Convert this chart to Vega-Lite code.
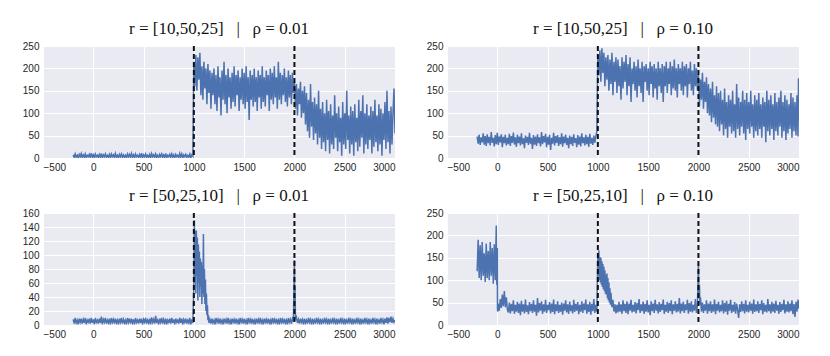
{
"$schema": "https://vega.github.io/schema/vega-lite/v6.json",
"background": "white",
"padding": {"left": 22, "top": 20, "right": 5, "bottom": 5},
"columns": 2,
"bounds": "flush",
"spacing": {"row": 55, "column": 52},
"datasets": {
"v": [{"v": 1000}, {"v": 2000}],
"a": [
{"x":-200,"y":7},{"x":-190,"y":1},{"x":-180,"y":9},{"x":-170,"y":2},{"x":-160,"y":6},{"x":-150,"y":0},{"x":-140,"y":8},{"x":-130,"y":3},{"x":-120,"y":10},{"x":-110,"y":1},
{"x":-100,"y":7},{"x":-90,"y":2},{"x":-80,"y":9},{"x":-70,"y":0},{"x":-60,"y":6},{"x":-50,"y":3},{"x":-40,"y":8},{"x":-30,"y":1},{"x":-20,"y":11},{"x":-10,"y":2},
{"x":0,"y":7},{"x":10,"y":0},{"x":20,"y":9},{"x":30,"y":3},{"x":40,"y":6},{"x":50,"y":1},{"x":60,"y":8},{"x":70,"y":2},{"x":80,"y":10},{"x":90,"y":0},
{"x":100,"y":7},{"x":110,"y":3},{"x":120,"y":9},{"x":130,"y":1},{"x":140,"y":6},{"x":150,"y":2},{"x":160,"y":8},{"x":170,"y":0},{"x":180,"y":9},{"x":190,"y":3},
{"x":200,"y":7},{"x":210,"y":1},{"x":220,"y":10},{"x":230,"y":2},{"x":240,"y":6},{"x":250,"y":0},{"x":260,"y":8},{"x":270,"y":3},{"x":280,"y":9},{"x":290,"y":1},
{"x":300,"y":7},{"x":310,"y":2},{"x":320,"y":6},{"x":330,"y":0},{"x":340,"y":9},{"x":350,"y":3},{"x":360,"y":8},{"x":370,"y":1},{"x":380,"y":10},{"x":390,"y":2},
{"x":400,"y":7},{"x":410,"y":0},{"x":420,"y":9},{"x":430,"y":3},{"x":440,"y":6},{"x":450,"y":1},{"x":460,"y":8},{"x":470,"y":2},{"x":480,"y":11},{"x":490,"y":0},
{"x":500,"y":7},{"x":510,"y":3},{"x":520,"y":9},{"x":530,"y":1},{"x":540,"y":6},{"x":550,"y":2},{"x":560,"y":8},{"x":570,"y":0},{"x":580,"y":10},{"x":590,"y":3},
{"x":600,"y":7},{"x":610,"y":1},{"x":620,"y":9},{"x":630,"y":2},{"x":640,"y":6},{"x":650,"y":0},{"x":660,"y":8},{"x":670,"y":3},{"x":680,"y":9},{"x":690,"y":1},
{"x":700,"y":7},{"x":710,"y":2},{"x":720,"y":10},{"x":730,"y":0},{"x":740,"y":6},{"x":750,"y":3},{"x":760,"y":8},{"x":770,"y":1},{"x":780,"y":9},{"x":790,"y":2},
{"x":800,"y":7},{"x":810,"y":0},{"x":820,"y":8},{"x":830,"y":3},{"x":840,"y":6},{"x":850,"y":1},{"x":860,"y":10},{"x":870,"y":2},{"x":880,"y":9},{"x":890,"y":0},
{"x":900,"y":7},{"x":910,"y":3},{"x":920,"y":8},{"x":930,"y":1},{"x":940,"y":6},{"x":950,"y":2},{"x":960,"y":9},{"x":970,"y":0},{"x":980,"y":7},{"x":990,"y":4},
{"x":1000,"y":215},{"x":1010,"y":160},{"x":1020,"y":230},{"x":1030,"y":150},{"x":1040,"y":225},{"x":1050,"y":175},{"x":1060,"y":235},{"x":1070,"y":140},{"x":1080,"y":205},{"x":1090,"y":130},
{"x":1100,"y":215},{"x":1110,"y":155},{"x":1120,"y":200},{"x":1130,"y":120},{"x":1140,"y":210},{"x":1150,"y":145},{"x":1160,"y":195},{"x":1170,"y":110},{"x":1180,"y":190},{"x":1190,"y":140},
{"x":1200,"y":200},{"x":1210,"y":120},{"x":1220,"y":185},{"x":1230,"y":105},{"x":1240,"y":205},{"x":1250,"y":135},{"x":1260,"y":180},{"x":1270,"y":95},{"x":1280,"y":195},{"x":1290,"y":130},
{"x":1300,"y":215},{"x":1310,"y":120},{"x":1320,"y":185},{"x":1330,"y":100},{"x":1340,"y":200},{"x":1350,"y":135},{"x":1360,"y":180},{"x":1370,"y":110},{"x":1380,"y":190},{"x":1390,"y":125},
{"x":1400,"y":205},{"x":1410,"y":115},{"x":1420,"y":185},{"x":1430,"y":140},{"x":1440,"y":195},{"x":1450,"y":105},{"x":1460,"y":180},{"x":1470,"y":130},{"x":1480,"y":200},{"x":1490,"y":120},
{"x":1500,"y":190},{"x":1510,"y":110},{"x":1520,"y":205},{"x":1530,"y":125},{"x":1540,"y":180},{"x":1550,"y":85},{"x":1560,"y":195},{"x":1570,"y":130},{"x":1580,"y":185},{"x":1590,"y":115},
{"x":1600,"y":200},{"x":1610,"y":125},{"x":1620,"y":180},{"x":1630,"y":105},{"x":1640,"y":195},{"x":1650,"y":135},{"x":1660,"y":185},{"x":1670,"y":110},{"x":1680,"y":205},{"x":1690,"y":125},
{"x":1700,"y":180},{"x":1710,"y":115},{"x":1720,"y":195},{"x":1730,"y":140},{"x":1740,"y":185},{"x":1750,"y":105},{"x":1760,"y":200},{"x":1770,"y":130},{"x":1780,"y":190},{"x":1790,"y":120},
{"x":1800,"y":205},{"x":1810,"y":135},{"x":1820,"y":180},{"x":1830,"y":110},{"x":1840,"y":215},{"x":1850,"y":130},{"x":1860,"y":190},{"x":1870,"y":120},{"x":1880,"y":185},{"x":1890,"y":140},
{"x":1900,"y":200},{"x":1910,"y":125},{"x":1920,"y":180},{"x":1930,"y":115},{"x":1940,"y":195},{"x":1950,"y":135},{"x":1960,"y":185},{"x":1970,"y":120},{"x":1980,"y":190},{"x":1990,"y":145},
{"x":2000,"y":170},{"x":2010,"y":110},{"x":2020,"y":165},{"x":2030,"y":95},{"x":2040,"y":155},{"x":2050,"y":120},{"x":2060,"y":170},{"x":2070,"y":90},{"x":2080,"y":150},{"x":2090,"y":100},
{"x":2100,"y":160},{"x":2110,"y":75},{"x":2120,"y":145},{"x":2130,"y":60},{"x":2140,"y":130},{"x":2150,"y":45},{"x":2160,"y":165},{"x":2170,"y":70},{"x":2180,"y":125},{"x":2190,"y":40},
{"x":2200,"y":135},{"x":2210,"y":55},{"x":2220,"y":120},{"x":2230,"y":30},{"x":2240,"y":150},{"x":2250,"y":45},{"x":2260,"y":110},{"x":2270,"y":20},{"x":2280,"y":125},{"x":2290,"y":35},
{"x":2300,"y":100},{"x":2310,"y":15},{"x":2320,"y":130},{"x":2330,"y":40},{"x":2340,"y":105},{"x":2350,"y":10},{"x":2360,"y":120},{"x":2370,"y":30},{"x":2380,"y":95},{"x":2390,"y":20},
{"x":2400,"y":140},{"x":2410,"y":45},{"x":2420,"y":100},{"x":2430,"y":15},{"x":2440,"y":115},{"x":2450,"y":35},{"x":2460,"y":90},{"x":2470,"y":5},{"x":2480,"y":125},{"x":2490,"y":30},
{"x":2500,"y":100},{"x":2510,"y":20},{"x":2520,"y":150},{"x":2530,"y":40},{"x":2540,"y":95},{"x":2550,"y":10},{"x":2560,"y":115},{"x":2570,"y":30},{"x":2580,"y":105},{"x":2590,"y":5},
{"x":2600,"y":120},{"x":2610,"y":35},{"x":2620,"y":90},{"x":2630,"y":15},{"x":2640,"y":130},{"x":2650,"y":25},{"x":2660,"y":105},{"x":2670,"y":45},{"x":2680,"y":140},{"x":2690,"y":10},
{"x":2700,"y":100},{"x":2710,"y":30},{"x":2720,"y":120},{"x":2730,"y":20},{"x":2740,"y":95},{"x":2750,"y":40},{"x":2760,"y":115},{"x":2770,"y":10},{"x":2780,"y":105},{"x":2790,"y":25},
{"x":2800,"y":130},{"x":2810,"y":35},{"x":2820,"y":95},{"x":2830,"y":15},{"x":2840,"y":120},{"x":2850,"y":30},{"x":2860,"y":110},{"x":2870,"y":5},{"x":2880,"y":100},{"x":2890,"y":40},
{"x":2900,"y":125},{"x":2910,"y":20},{"x":2920,"y":150},{"x":2930,"y":35},{"x":2940,"y":105},{"x":2950,"y":10},{"x":2960,"y":115},{"x":2970,"y":30},{"x":2980,"y":100},{"x":2990,"y":155},{"x":3000,"y":55}
],
"b": [
{"x":-200,"y":48},{"x":-190,"y":32},{"x":-180,"y":52},{"x":-170,"y":29},{"x":-160,"y":46},{"x":-150,"y":35},{"x":-140,"y":55},{"x":-130,"y":30},{"x":-120,"y":49},{"x":-110,"y":27},
{"x":-100,"y":53},{"x":-90,"y":33},{"x":-80,"y":47},{"x":-70,"y":28},{"x":-60,"y":58},{"x":-50,"y":34},{"x":-40,"y":45},{"x":-30,"y":26},{"x":-20,"y":51},{"x":-10,"y":31},
{"x":0,"y":56},{"x":10,"y":29},{"x":20,"y":48},{"x":30,"y":35},{"x":40,"y":53},{"x":50,"y":24},{"x":60,"y":47},{"x":70,"y":33},{"x":80,"y":52},{"x":90,"y":28},
{"x":100,"y":45},{"x":110,"y":31},{"x":120,"y":54},{"x":130,"y":27},{"x":140,"y":49},{"x":150,"y":34},{"x":160,"y":57},{"x":170,"y":30},{"x":180,"y":46},{"x":190,"y":25},
{"x":200,"y":52},{"x":210,"y":33},{"x":220,"y":48},{"x":230,"y":28},{"x":240,"y":55},{"x":250,"y":31},{"x":260,"y":44},{"x":270,"y":22},{"x":280,"y":50},{"x":290,"y":34},
{"x":300,"y":47},{"x":310,"y":29},{"x":320,"y":56},{"x":330,"y":32},{"x":340,"y":45},{"x":350,"y":20},{"x":360,"y":51},{"x":370,"y":30},{"x":380,"y":48},{"x":390,"y":27},
{"x":400,"y":53},{"x":410,"y":33},{"x":420,"y":46},{"x":430,"y":26},{"x":440,"y":58},{"x":450,"y":31},{"x":460,"y":49},{"x":470,"y":35},{"x":480,"y":54},{"x":490,"y":24},
{"x":500,"y":47},{"x":510,"y":30},{"x":520,"y":52},{"x":530,"y":18},{"x":540,"y":45},{"x":550,"y":32},{"x":560,"y":56},{"x":570,"y":28},{"x":580,"y":49},{"x":590,"y":34},
{"x":600,"y":51},{"x":610,"y":27},{"x":620,"y":46},{"x":630,"y":31},{"x":640,"y":55},{"x":650,"y":25},{"x":660,"y":48},{"x":670,"y":33},{"x":680,"y":52},{"x":690,"y":29},
{"x":700,"y":45},{"x":710,"y":22},{"x":720,"y":50},{"x":730,"y":31},{"x":740,"y":47},{"x":750,"y":27},{"x":760,"y":53},{"x":770,"y":34},{"x":780,"y":44},{"x":790,"y":24},
{"x":800,"y":51},{"x":810,"y":30},{"x":820,"y":48},{"x":830,"y":26},{"x":840,"y":55},{"x":850,"y":33},{"x":860,"y":46},{"x":870,"y":28},{"x":880,"y":52},{"x":890,"y":31},
{"x":900,"y":47},{"x":910,"y":25},{"x":920,"y":54},{"x":930,"y":32},{"x":940,"y":45},{"x":950,"y":29},{"x":960,"y":50},{"x":970,"y":34},{"x":980,"y":48},{"x":990,"y":60},
{"x":1000,"y":230},{"x":1010,"y":185},{"x":1020,"y":240},{"x":1030,"y":170},{"x":1040,"y":245},{"x":1050,"y":190},{"x":1060,"y":235},{"x":1070,"y":160},{"x":1080,"y":225},{"x":1090,"y":175},
{"x":1100,"y":230},{"x":1110,"y":150},{"x":1120,"y":220},{"x":1130,"y":165},{"x":1140,"y":235},{"x":1150,"y":140},{"x":1160,"y":215},{"x":1170,"y":170},{"x":1180,"y":225},{"x":1190,"y":145},
{"x":1200,"y":220},{"x":1210,"y":160},{"x":1220,"y":205},{"x":1230,"y":130},{"x":1240,"y":225},{"x":1250,"y":155},{"x":1260,"y":215},{"x":1270,"y":170},{"x":1280,"y":230},{"x":1290,"y":140},
{"x":1300,"y":210},{"x":1310,"y":160},{"x":1320,"y":225},{"x":1330,"y":125},{"x":1340,"y":200},{"x":1350,"y":165},{"x":1360,"y":215},{"x":1370,"y":150},{"x":1380,"y":205},{"x":1390,"y":135},
{"x":1400,"y":220},{"x":1410,"y":160},{"x":1420,"y":200},{"x":1430,"y":145},{"x":1440,"y":215},{"x":1450,"y":125},{"x":1460,"y":205},{"x":1470,"y":170},{"x":1480,"y":210},{"x":1490,"y":150},
{"x":1500,"y":200},{"x":1510,"y":140},{"x":1520,"y":215},{"x":1530,"y":165},{"x":1540,"y":205},{"x":1550,"y":135},{"x":1560,"y":210},{"x":1570,"y":155},{"x":1580,"y":200},{"x":1590,"y":130},
{"x":1600,"y":215},{"x":1610,"y":160},{"x":1620,"y":200},{"x":1630,"y":145},{"x":1640,"y":210},{"x":1650,"y":125},{"x":1660,"y":205},{"x":1670,"y":160},{"x":1680,"y":215},{"x":1690,"y":145},
{"x":1700,"y":200},{"x":1710,"y":165},{"x":1720,"y":215},{"x":1730,"y":140},{"x":1740,"y":205},{"x":1750,"y":155},{"x":1760,"y":220},{"x":1770,"y":150},{"x":1780,"y":200},{"x":1790,"y":135},
{"x":1800,"y":210},{"x":1810,"y":165},{"x":1820,"y":200},{"x":1830,"y":150},{"x":1840,"y":215},{"x":1850,"y":140},{"x":1860,"y":205},{"x":1870,"y":160},{"x":1880,"y":210},{"x":1890,"y":135},
{"x":1900,"y":200},{"x":1910,"y":165},{"x":1920,"y":215},{"x":1930,"y":150},{"x":1940,"y":195},{"x":1950,"y":140},{"x":1960,"y":210},{"x":1970,"y":160},{"x":1980,"y":200},{"x":1990,"y":150},
{"x":2000,"y":185},{"x":2010,"y":115},{"x":2020,"y":175},{"x":2030,"y":130},{"x":2040,"y":190},{"x":2050,"y":110},{"x":2060,"y":170},{"x":2070,"y":125},{"x":2080,"y":180},{"x":2090,"y":100},
{"x":2100,"y":165},{"x":2110,"y":95},{"x":2120,"y":155},{"x":2130,"y":80},{"x":2140,"y":170},{"x":2150,"y":90},{"x":2160,"y":140},{"x":2170,"y":75},{"x":2180,"y":160},{"x":2190,"y":70},
{"x":2200,"y":145},{"x":2210,"y":60},{"x":2220,"y":150},{"x":2230,"y":75},{"x":2240,"y":130},{"x":2250,"y":50},{"x":2260,"y":155},{"x":2270,"y":65},{"x":2280,"y":125},{"x":2290,"y":45},
{"x":2300,"y":140},{"x":2310,"y":70},{"x":2320,"y":130},{"x":2330,"y":55},{"x":2340,"y":150},{"x":2350,"y":60},{"x":2360,"y":120},{"x":2370,"y":45},{"x":2380,"y":165},{"x":2390,"y":65},
{"x":2400,"y":135},{"x":2410,"y":50},{"x":2420,"y":125},{"x":2430,"y":70},{"x":2440,"y":150},{"x":2450,"y":55},{"x":2460,"y":130},{"x":2470,"y":40},{"x":2480,"y":145},{"x":2490,"y":65},
{"x":2500,"y":125},{"x":2510,"y":55},{"x":2520,"y":150},{"x":2530,"y":70},{"x":2540,"y":120},{"x":2550,"y":45},{"x":2560,"y":140},{"x":2570,"y":60},{"x":2580,"y":130},{"x":2590,"y":50},
{"x":2600,"y":145},{"x":2610,"y":65},{"x":2620,"y":120},{"x":2630,"y":45},{"x":2640,"y":135},{"x":2650,"y":70},{"x":2660,"y":125},{"x":2670,"y":35},{"x":2680,"y":150},{"x":2690,"y":60},
{"x":2700,"y":130},{"x":2710,"y":50},{"x":2720,"y":140},{"x":2730,"y":65},{"x":2740,"y":120},{"x":2750,"y":40},{"x":2760,"y":145},{"x":2770,"y":60},{"x":2780,"y":125},{"x":2790,"y":50},
{"x":2800,"y":135},{"x":2810,"y":70},{"x":2820,"y":150},{"x":2830,"y":45},{"x":2840,"y":125},{"x":2850,"y":60},{"x":2860,"y":140},{"x":2870,"y":40},{"x":2880,"y":130},{"x":2890,"y":55},
{"x":2900,"y":120},{"x":2910,"y":65},{"x":2920,"y":145},{"x":2930,"y":45},{"x":2940,"y":135},{"x":2950,"y":60},{"x":2960,"y":125},{"x":2970,"y":50},{"x":2980,"y":140},{"x":2990,"y":48},{"x":2995,"y":178},{"x":3000,"y":85}
],
"c": [
{"x":-200,"y":8},{"x":-190,"y":2},{"x":-180,"y":10},{"x":-170,"y":3},{"x":-160,"y":7},{"x":-150,"y":1},{"x":-140,"y":9},{"x":-130,"y":4},{"x":-120,"y":9},{"x":-110,"y":2},
{"x":-100,"y":8},{"x":-90,"y":3},{"x":-80,"y":10},{"x":-70,"y":1},{"x":-60,"y":7},{"x":-50,"y":4},{"x":-40,"y":9},{"x":-30,"y":2},{"x":-20,"y":10},{"x":-10,"y":3},
{"x":0,"y":8},{"x":10,"y":1},{"x":20,"y":10},{"x":30,"y":4},{"x":40,"y":7},{"x":50,"y":2},{"x":60,"y":9},{"x":70,"y":3},{"x":80,"y":12},{"x":90,"y":1},
{"x":100,"y":8},{"x":110,"y":4},{"x":120,"y":10},{"x":130,"y":2},{"x":140,"y":7},{"x":150,"y":3},{"x":160,"y":9},{"x":170,"y":1},{"x":180,"y":10},{"x":190,"y":4},
{"x":200,"y":8},{"x":210,"y":2},{"x":220,"y":9},{"x":230,"y":3},{"x":240,"y":7},{"x":250,"y":1},{"x":260,"y":9},{"x":270,"y":4},{"x":280,"y":10},{"x":290,"y":2},
{"x":300,"y":8},{"x":310,"y":3},{"x":320,"y":7},{"x":330,"y":1},{"x":340,"y":10},{"x":350,"y":4},{"x":360,"y":9},{"x":370,"y":2},{"x":380,"y":9},{"x":390,"y":3},
{"x":400,"y":8},{"x":410,"y":1},{"x":420,"y":10},{"x":430,"y":4},{"x":440,"y":7},{"x":450,"y":2},{"x":460,"y":9},{"x":470,"y":3},{"x":480,"y":9},{"x":490,"y":1},
{"x":500,"y":8},{"x":510,"y":4},{"x":520,"y":10},{"x":530,"y":2},{"x":540,"y":7},{"x":550,"y":3},{"x":560,"y":9},{"x":570,"y":1},{"x":580,"y":11},{"x":590,"y":4},
{"x":600,"y":8},{"x":610,"y":2},{"x":620,"y":13},{"x":630,"y":3},{"x":640,"y":7},{"x":650,"y":1},{"x":660,"y":9},{"x":670,"y":4},{"x":680,"y":10},{"x":690,"y":2},
{"x":700,"y":8},{"x":710,"y":3},{"x":720,"y":9},{"x":730,"y":1},{"x":740,"y":7},{"x":750,"y":4},{"x":760,"y":9},{"x":770,"y":2},{"x":780,"y":10},{"x":790,"y":3},
{"x":800,"y":8},{"x":810,"y":1},{"x":820,"y":9},{"x":830,"y":4},{"x":840,"y":7},{"x":850,"y":2},{"x":860,"y":10},{"x":870,"y":3},{"x":880,"y":9},{"x":890,"y":1},
{"x":900,"y":8},{"x":910,"y":4},{"x":920,"y":9},{"x":930,"y":2},{"x":940,"y":7},{"x":950,"y":3},{"x":960,"y":10},{"x":970,"y":1},{"x":980,"y":8},{"x":990,"y":3},
{"x":1000,"y":55},{"x":1005,"y":150},{"x":1010,"y":60},{"x":1015,"y":135},{"x":1020,"y":45},{"x":1025,"y":135},{"x":1030,"y":70},{"x":1035,"y":125},{"x":1040,"y":35},{"x":1045,"y":115},
{"x":1050,"y":60},{"x":1055,"y":105},{"x":1060,"y":40},{"x":1065,"y":95},{"x":1070,"y":55},{"x":1075,"y":90},{"x":1080,"y":30},{"x":1085,"y":85},{"x":1090,"y":45},{"x":1095,"y":130},
{"x":1100,"y":40},{"x":1105,"y":80},{"x":1110,"y":30},{"x":1115,"y":65},{"x":1120,"y":20},{"x":1125,"y":45},{"x":1130,"y":14},{"x":1135,"y":28},{"x":1140,"y":7},{"x":1145,"y":14},{"x":1150,"y":3},
{"x":1160,"y":8},{"x":1170,"y":2},{"x":1180,"y":9},{"x":1190,"y":3},
{"x":1200,"y":7},{"x":1210,"y":1},{"x":1220,"y":10},{"x":1230,"y":4},{"x":1240,"y":8},{"x":1250,"y":2},{"x":1260,"y":9},{"x":1270,"y":3},{"x":1280,"y":7},{"x":1290,"y":1},
{"x":1300,"y":9},{"x":1310,"y":4},{"x":1320,"y":8},{"x":1330,"y":2},{"x":1340,"y":10},{"x":1350,"y":3},{"x":1360,"y":7},{"x":1370,"y":1},{"x":1380,"y":9},{"x":1390,"y":4},
{"x":1400,"y":8},{"x":1410,"y":2},{"x":1420,"y":9},{"x":1430,"y":3},{"x":1440,"y":7},{"x":1450,"y":1},{"x":1460,"y":10},{"x":1470,"y":4},{"x":1480,"y":8},{"x":1490,"y":2},
{"x":1500,"y":9},{"x":1510,"y":3},{"x":1520,"y":7},{"x":1530,"y":1},{"x":1540,"y":10},{"x":1550,"y":4},{"x":1560,"y":8},{"x":1570,"y":2},{"x":1580,"y":9},{"x":1590,"y":3},
{"x":1600,"y":7},{"x":1610,"y":1},{"x":1620,"y":9},{"x":1630,"y":4},{"x":1640,"y":8},{"x":1650,"y":2},{"x":1660,"y":10},{"x":1670,"y":3},{"x":1680,"y":7},{"x":1690,"y":1},
{"x":1700,"y":9},{"x":1710,"y":4},{"x":1720,"y":8},{"x":1730,"y":2},{"x":1740,"y":9},{"x":1750,"y":3},{"x":1760,"y":7},{"x":1770,"y":1},{"x":1780,"y":10},{"x":1790,"y":4},
{"x":1800,"y":8},{"x":1810,"y":2},{"x":1820,"y":9},{"x":1830,"y":3},{"x":1840,"y":7},{"x":1850,"y":1},{"x":1860,"y":10},{"x":1870,"y":4},{"x":1880,"y":8},{"x":1890,"y":2},
{"x":1900,"y":9},{"x":1910,"y":3},{"x":1920,"y":7},{"x":1930,"y":1},{"x":1940,"y":10},{"x":1950,"y":4},{"x":1960,"y":8},{"x":1970,"y":2},{"x":1980,"y":9},{"x":1990,"y":5},
{"x":2000,"y":93},{"x":2003,"y":25},{"x":2006,"y":55},{"x":2010,"y":12},{"x":2015,"y":9},{"x":2020,"y":11},
{"x":2030,"y":3},{"x":2040,"y":8},{"x":2050,"y":2},{"x":2060,"y":9},{"x":2070,"y":4},{"x":2080,"y":8},{"x":2090,"y":1},
{"x":2100,"y":9},{"x":2110,"y":3},{"x":2120,"y":7},{"x":2130,"y":2},{"x":2140,"y":10},{"x":2150,"y":4},{"x":2160,"y":8},{"x":2170,"y":1},{"x":2180,"y":9},{"x":2190,"y":3},
{"x":2200,"y":7},{"x":2210,"y":2},{"x":2220,"y":10},{"x":2230,"y":4},{"x":2240,"y":8},{"x":2250,"y":1},{"x":2260,"y":9},{"x":2270,"y":3},{"x":2280,"y":7},{"x":2290,"y":2},
{"x":2300,"y":10},{"x":2310,"y":4},{"x":2320,"y":8},{"x":2330,"y":1},{"x":2340,"y":9},{"x":2350,"y":3},{"x":2360,"y":7},{"x":2370,"y":2},{"x":2380,"y":10},{"x":2390,"y":4},
{"x":2400,"y":8},{"x":2410,"y":1},{"x":2420,"y":9},{"x":2430,"y":3},{"x":2440,"y":7},{"x":2450,"y":2},{"x":2460,"y":10},{"x":2470,"y":4},{"x":2480,"y":8},{"x":2490,"y":1},
{"x":2500,"y":9},{"x":2510,"y":3},{"x":2520,"y":7},{"x":2530,"y":2},{"x":2540,"y":10},{"x":2550,"y":4},{"x":2560,"y":8},{"x":2570,"y":1},{"x":2580,"y":9},{"x":2590,"y":3},
{"x":2600,"y":7},{"x":2610,"y":2},{"x":2620,"y":10},{"x":2630,"y":4},{"x":2640,"y":8},{"x":2650,"y":1},{"x":2660,"y":9},{"x":2670,"y":3},{"x":2680,"y":7},{"x":2690,"y":2},
{"x":2700,"y":10},{"x":2710,"y":4},{"x":2720,"y":8},{"x":2730,"y":1},{"x":2740,"y":9},{"x":2750,"y":3},{"x":2760,"y":7},{"x":2770,"y":2},{"x":2780,"y":10},{"x":2790,"y":4},
{"x":2800,"y":8},{"x":2810,"y":1},{"x":2820,"y":9},{"x":2830,"y":3},{"x":2840,"y":7},{"x":2850,"y":2},{"x":2860,"y":10},{"x":2870,"y":4},{"x":2880,"y":8},{"x":2890,"y":1},
{"x":2900,"y":9},{"x":2910,"y":3},{"x":2920,"y":11},{"x":2930,"y":2},{"x":2940,"y":10},{"x":2950,"y":4},{"x":2960,"y":12},{"x":2970,"y":3},{"x":2980,"y":9},{"x":2990,"y":4},{"x":3000,"y":7}
],
"d": [
{"x":-200,"y":120},{"x":-190,"y":190},{"x":-180,"y":105},{"x":-170,"y":178},{"x":-160,"y":100},{"x":-150,"y":185},{"x":-140,"y":110},{"x":-130,"y":160},{"x":-120,"y":96},{"x":-110,"y":182},
{"x":-100,"y":105},{"x":-90,"y":165},{"x":-80,"y":100},{"x":-70,"y":185},{"x":-60,"y":110},{"x":-50,"y":172},{"x":-40,"y":92},{"x":-30,"y":180},{"x":-20,"y":100},{"x":-15,"y":160},
{"x":-10,"y":222},{"x":-5,"y":90},{"x":0,"y":172},{"x":2,"y":35},{"x":5,"y":30},{"x":10,"y":48},{"x":20,"y":32},{"x":30,"y":58},{"x":40,"y":38},{"x":50,"y":68},
{"x":60,"y":42},{"x":70,"y":76},{"x":80,"y":40},{"x":90,"y":62},{"x":100,"y":35},
{"x":110,"y":28},{"x":120,"y":50},{"x":130,"y":26},{"x":140,"y":47},{"x":150,"y":31},{"x":160,"y":55},{"x":170,"y":25},{"x":180,"y":45},{"x":190,"y":30},
{"x":200,"y":52},{"x":210,"y":27},{"x":220,"y":48},{"x":230,"y":22},{"x":240,"y":54},{"x":250,"y":30},{"x":260,"y":46},{"x":270,"y":26},{"x":280,"y":57},{"x":290,"y":29},
{"x":300,"y":44},{"x":310,"y":24},{"x":320,"y":51},{"x":330,"y":31},{"x":340,"y":47},{"x":350,"y":27},{"x":360,"y":55},{"x":370,"y":30},{"x":380,"y":45},{"x":390,"y":21},
{"x":400,"y":60},{"x":410,"y":28},{"x":420,"y":49},{"x":430,"y":32},{"x":440,"y":53},{"x":450,"y":25},{"x":460,"y":46},{"x":470,"y":30},{"x":480,"y":56},{"x":490,"y":27},
{"x":500,"y":45},{"x":510,"y":33},{"x":520,"y":51},{"x":530,"y":26},{"x":540,"y":48},{"x":550,"y":29},{"x":560,"y":57},{"x":570,"y":24},{"x":580,"y":46},{"x":590,"y":31},
{"x":600,"y":53},{"x":610,"y":27},{"x":620,"y":45},{"x":630,"y":30},{"x":640,"y":50},{"x":650,"y":23},{"x":660,"y":48},{"x":670,"y":32},{"x":680,"y":55},{"x":690,"y":28},
{"x":700,"y":46},{"x":710,"y":25},{"x":720,"y":52},{"x":730,"y":31},{"x":740,"y":44},{"x":750,"y":26},{"x":760,"y":56},{"x":770,"y":29},{"x":780,"y":47},{"x":790,"y":32},
{"x":800,"y":51},{"x":810,"y":24},{"x":820,"y":45},{"x":830,"y":30},{"x":840,"y":53},{"x":850,"y":27},{"x":860,"y":48},{"x":870,"y":33},{"x":880,"y":57},{"x":890,"y":25},
{"x":900,"y":46},{"x":910,"y":29},{"x":920,"y":52},{"x":930,"y":23},{"x":940,"y":47},{"x":950,"y":31},{"x":960,"y":58},{"x":970,"y":27},{"x":980,"y":45},{"x":990,"y":30},
{"x":1000,"y":160},{"x":1005,"y":110},{"x":1010,"y":167},{"x":1015,"y":100},{"x":1020,"y":152},{"x":1025,"y":95},{"x":1030,"y":150},{"x":1035,"y":90},{"x":1040,"y":142},{"x":1045,"y":85},
{"x":1050,"y":136},{"x":1055,"y":80},{"x":1060,"y":130},{"x":1065,"y":76},{"x":1070,"y":122},{"x":1075,"y":70},{"x":1080,"y":112},{"x":1085,"y":68},{"x":1090,"y":115},{"x":1095,"y":60},
{"x":1100,"y":105},{"x":1105,"y":55},{"x":1110,"y":95},{"x":1115,"y":50},{"x":1120,"y":82},{"x":1125,"y":45},{"x":1130,"y":72},{"x":1140,"y":40},{"x":1150,"y":56},{"x":1160,"y":30},
{"x":1170,"y":46},{"x":1180,"y":26},
{"x":1190,"y":45},{"x":1200,"y":28},{"x":1210,"y":52},{"x":1220,"y":30},{"x":1230,"y":46},{"x":1240,"y":25},{"x":1250,"y":55},{"x":1260,"y":31},{"x":1270,"y":47},{"x":1280,"y":27},{"x":1290,"y":53},
{"x":1300,"y":24},{"x":1310,"y":48},{"x":1320,"y":32},{"x":1330,"y":56},{"x":1340,"y":28},{"x":1350,"y":45},{"x":1360,"y":30},{"x":1370,"y":51},{"x":1380,"y":26},{"x":1390,"y":49},
{"x":1400,"y":33},{"x":1410,"y":58},{"x":1420,"y":27},{"x":1430,"y":46},{"x":1440,"y":31},{"x":1450,"y":52},{"x":1460,"y":25},{"x":1470,"y":47},{"x":1480,"y":30},{"x":1490,"y":55},
{"x":1500,"y":28},{"x":1510,"y":45},{"x":1520,"y":22},{"x":1530,"y":53},{"x":1540,"y":31},{"x":1550,"y":48},{"x":1560,"y":27},{"x":1570,"y":56},{"x":1580,"y":32},{"x":1590,"y":46},
{"x":1600,"y":26},{"x":1610,"y":51},{"x":1620,"y":29},{"x":1630,"y":47},{"x":1640,"y":33},{"x":1650,"y":57},{"x":1660,"y":25},{"x":1670,"y":45},{"x":1680,"y":30},{"x":1690,"y":52},
{"x":1700,"y":27},{"x":1710,"y":49},{"x":1720,"y":31},{"x":1730,"y":55},{"x":1740,"y":24},{"x":1750,"y":46},{"x":1760,"y":32},{"x":1770,"y":53},{"x":1780,"y":28},{"x":1790,"y":47},
{"x":1800,"y":30},{"x":1810,"y":60},{"x":1820,"y":26},{"x":1830,"y":48},{"x":1840,"y":31},{"x":1850,"y":52},{"x":1860,"y":27},{"x":1870,"y":46},{"x":1880,"y":33},{"x":1890,"y":56},
{"x":1900,"y":25},{"x":1910,"y":49},{"x":1920,"y":30},{"x":1930,"y":53},{"x":1940,"y":28},{"x":1950,"y":45},{"x":1960,"y":32},{"x":1970,"y":58},{"x":1980,"y":27},{"x":1990,"y":44},
{"x":2000,"y":135},{"x":2005,"y":60},{"x":2010,"y":90},{"x":2015,"y":45},{"x":2020,"y":62},
{"x":2030,"y":30},{"x":2040,"y":50},{"x":2050,"y":27},{"x":2060,"y":46},{"x":2070,"y":32},{"x":2080,"y":55},{"x":2090,"y":25},
{"x":2100,"y":48},{"x":2110,"y":31},{"x":2120,"y":53},{"x":2130,"y":27},{"x":2140,"y":46},{"x":2150,"y":30},{"x":2160,"y":57},{"x":2170,"y":24},{"x":2180,"y":47},{"x":2190,"y":32},
{"x":2200,"y":52},{"x":2210,"y":28},{"x":2220,"y":45},{"x":2230,"y":31},{"x":2240,"y":55},{"x":2250,"y":26},{"x":2260,"y":49},{"x":2270,"y":30},{"x":2280,"y":54},{"x":2290,"y":23},
{"x":2300,"y":47},{"x":2310,"y":32},{"x":2320,"y":56},{"x":2330,"y":27},{"x":2340,"y":45},{"x":2350,"y":30},{"x":2360,"y":51},{"x":2370,"y":25},{"x":2380,"y":48},{"x":2390,"y":33},
{"x":2400,"y":16},{"x":2410,"y":46},{"x":2420,"y":29},{"x":2430,"y":53},{"x":2440,"y":31},{"x":2450,"y":47},{"x":2460,"y":26},{"x":2470,"y":55},{"x":2480,"y":30},{"x":2490,"y":45},
{"x":2500,"y":28},{"x":2510,"y":52},{"x":2520,"y":32},{"x":2530,"y":48},{"x":2540,"y":25},{"x":2550,"y":57},{"x":2560,"y":29},{"x":2570,"y":46},{"x":2580,"y":31},{"x":2590,"y":53},
{"x":2600,"y":27},{"x":2610,"y":47},{"x":2620,"y":33},{"x":2630,"y":55},{"x":2640,"y":24},{"x":2650,"y":49},{"x":2660,"y":30},{"x":2670,"y":45},{"x":2680,"y":28},{"x":2690,"y":58},
{"x":2700,"y":31},{"x":2710,"y":46},{"x":2720,"y":26},{"x":2730,"y":52},{"x":2740,"y":30},{"x":2750,"y":48},{"x":2760,"y":27},{"x":2770,"y":54},{"x":2780,"y":32},{"x":2790,"y":45},
{"x":2800,"y":25},{"x":2810,"y":51},{"x":2820,"y":29},{"x":2830,"y":47},{"x":2840,"y":33},{"x":2850,"y":56},{"x":2860,"y":26},{"x":2870,"y":46},{"x":2880,"y":30},{"x":2890,"y":53},
{"x":2900,"y":28},{"x":2910,"y":48},{"x":2920,"y":31},{"x":2930,"y":55},{"x":2940,"y":24},{"x":2950,"y":47},{"x":2960,"y":18},{"x":2970,"y":52},{"x":2980,"y":30},{"x":2990,"y":57},{"x":3000,"y":36}
]
},
"concat": [
{"width": 352, "height": 112, "title": "r = [10,50,25]\u00a0\u00a0\u00a0|\u00a0\u00a0\u00a0ρ = 0.01",
 "layer": [
  {"data": {"name": "a"}, "mark": {"type": "line", "color": "#4C72B0", "strokeWidth": 1.5, "clip": true},
   "encoding": {"x": {"field": "x", "type": "quantitative", "scale": {"domain": [-500, 3000], "nice": false, "zero": false}, "axis": {"values": [-500, 0, 500, 1000, 1500, 2000, 2500, 3000], "format": "d"}},
                "y": {"field": "y", "type": "quantitative", "scale": {"domain": [0, 250], "nice": false}, "axis": {"values": [0, 50, 100, 150, 200, 250], "format": "d"}}}},
  {"data": {"name": "v"}, "mark": {"type": "rule", "color": "#111111", "strokeDash": [5, 3], "strokeWidth": 2},
   "encoding": {"x": {"field": "v", "type": "quantitative"}}}
 ]},
{"width": 352, "height": 112, "title": "r = [10,50,25]\u00a0\u00a0\u00a0|\u00a0\u00a0\u00a0ρ = 0.10",
 "layer": [
  {"data": {"name": "b"}, "mark": {"type": "line", "color": "#4C72B0", "strokeWidth": 1.5, "clip": true},
   "encoding": {"x": {"field": "x", "type": "quantitative", "scale": {"domain": [-500, 3000], "nice": false, "zero": false}, "axis": {"values": [-500, 0, 500, 1000, 1500, 2000, 2500, 3000], "format": "d"}},
                "y": {"field": "y", "type": "quantitative", "scale": {"domain": [0, 250], "nice": false}, "axis": {"values": [0, 50, 100, 150, 200, 250], "format": "d"}}}},
  {"data": {"name": "v"}, "mark": {"type": "rule", "color": "#111111", "strokeDash": [5, 3], "strokeWidth": 2},
   "encoding": {"x": {"field": "v", "type": "quantitative"}}}
 ]},
{"width": 352, "height": 112, "title": "r = [50,25,10]\u00a0\u00a0\u00a0|\u00a0\u00a0\u00a0ρ = 0.01",
 "layer": [
  {"data": {"name": "c"}, "mark": {"type": "line", "color": "#4C72B0", "strokeWidth": 1.5, "clip": true},
   "encoding": {"x": {"field": "x", "type": "quantitative", "scale": {"domain": [-500, 3000], "nice": false, "zero": false}, "axis": {"values": [-500, 0, 500, 1000, 1500, 2000, 2500, 3000], "format": "d"}},
                "y": {"field": "y", "type": "quantitative", "scale": {"domain": [0, 160], "nice": false}, "axis": {"values": [0, 20, 40, 60, 80, 100, 120, 140, 160], "format": "d"}}}},
  {"data": {"name": "v"}, "mark": {"type": "rule", "color": "#111111", "strokeDash": [5, 3], "strokeWidth": 2},
   "encoding": {"x": {"field": "v", "type": "quantitative"}}}
 ]},
{"width": 352, "height": 112, "title": "r = [50,25,10]\u00a0\u00a0\u00a0|\u00a0\u00a0\u00a0ρ = 0.10",
 "layer": [
  {"data": {"name": "d"}, "mark": {"type": "line", "color": "#4C72B0", "strokeWidth": 1.5, "clip": true},
   "encoding": {"x": {"field": "x", "type": "quantitative", "scale": {"domain": [-500, 3000], "nice": false, "zero": false}, "axis": {"values": [-500, 0, 500, 1000, 1500, 2000, 2500, 3000], "format": "d"}},
                "y": {"field": "y", "type": "quantitative", "scale": {"domain": [0, 250], "nice": false}, "axis": {"values": [0, 50, 100, 150, 200, 250], "format": "d"}}}},
  {"data": {"name": "v"}, "mark": {"type": "rule", "color": "#111111", "strokeDash": [5, 3], "strokeWidth": 2},
   "encoding": {"x": {"field": "v", "type": "quantitative"}}}
 ]}
],
"config": {
  "view": {"fill": "#EAEAF2", "stroke": null},
  "axis": {"grid": true, "gridColor": "#FFFFFF", "gridWidth": 1, "domain": false, "ticks": false, "title": null,
           "labelFont": "Liberation Sans", "labelFontSize": 10, "labelColor": "#262626", "labelPadding": 4},
  "title": {"font": "Liberation Serif", "fontSize": 17, "fontWeight": "normal", "color": "#111111", "offset": 3}
}
}
